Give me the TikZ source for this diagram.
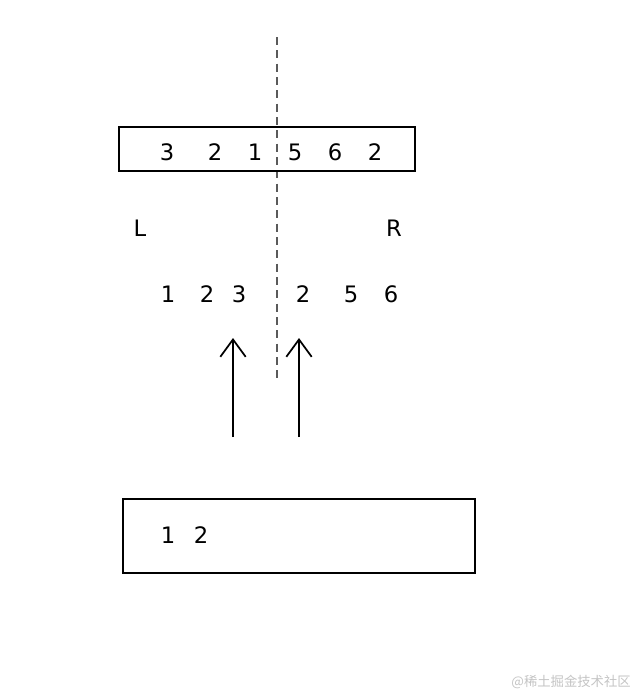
\documentclass[tikz,border=0pt]{standalone}
\usepackage{fontspec}
\setmainfont{DejaVu Sans}
\newfontfamily\cjkfont{Noto Sans CJK SC}
\usetikzlibrary{positioning,arrows.meta}
\definecolor{splitGray}{HTML}{5A5A5A}
\definecolor{markGray}{HTML}{C4C4C4}

\begin{document}
\begin{tikzpicture}[x=0.75pt, y=-0.75pt, font=\fontsize{17}{20}\selectfont,
      >={Straight Barb[length=13pt, width=19pt, line width=1.3pt]},
      box/.style={draw, line width=1.5pt, inner sep=0pt},
      num/.style={inner sep=0pt},
      mv/.style={->, line width=1.5pt}]
    \useasboundingbox (0,0) rectangle (636,694);
    % ---- split line
    \coordinate (cutTop) at (277,37);
    \coordinate (cutEnd) at (277,381);
    \draw[splitGray, line width=1.6pt, dash pattern=on 6pt off 4pt] (cutTop) -- (cutEnd);
    % ---- array before the split
    \node[box, minimum width=222pt, minimum height=33pt] (arr) at (267,149) {};
    \foreach \x/\v [count=\k] in {167/3, 215/2, 255/1, 295/5, 335/6, 375/2} {
      \node[num] (a\k) at (\x,152) {\v};
    }
    % ---- the two halves
    \node[num] (lab L) at (140,228) {L};
    \node[num] (lab R) at (394,228) {R};
    \foreach \x/\v [count=\k] in {168/1, 207/2, 239/3, 303/2, 351/5, 391/6} {
      \node[num] (s\k) at (\x,294) {\v};
    }
    % ---- pointers
    \coordinate (pL) at (233,437);
    \coordinate (pLtip) at (233,338);
    \coordinate (pR) at (299,437);
    \coordinate (pRtip) at (299,338);
    \draw[mv] (pL) -- (pLtip);
    \draw[mv] (pR) -- (pRtip);
    % ---- merged result
    \node[box, minimum width=264pt, minimum height=55.5pt] (res) at (299,536) {};
    \node[num] (r1) at (168,535) {1};
    \node[num] (r2) at (201,535) {2};
    % ---- watermark
    \node[num, anchor=east, text=markGray, font=\cjkfont\fontsize{10}{12}\selectfont] (mark) at (631,682) {@稀土掘金技术社区};
  \end{tikzpicture}
\end{document}
